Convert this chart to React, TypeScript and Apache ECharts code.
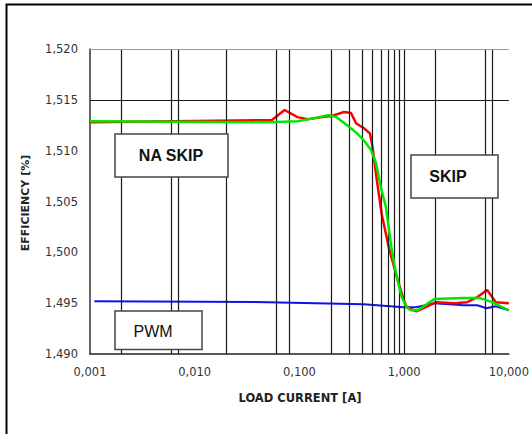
import React, { useEffect, useRef } from "react";
import * as echarts from "echarts";

const xTickLabels = ["0,001", "0,010", "0,100", "1,000", "10,000"];
const yTickLabels = ["1,490", "1,495", "1,500", "1,505", "1,510", "1,515", "1,520"];

const xGridLines = [0.002, 0.006, 0.007, 0.02, 0.06, 0.08, 0.2, 0.3, 0.4, 0.5, 0.6, 0.7, 0.8, 0.9, 1, 2, 6, 7];
const yGridLines = [1.515];
const yTopLine = [1.52];

const redCurrent = [0.001, 0.0543, 0.0721, 0.0957, 0.119, 0.165, 0.201, 0.267, 0.311, 0.347, 0.413, 0.471, 0.492, 0.514, 0.548, 0.612, 0.713, 0.85, 0.99, 1.06, 1.31, 2.03, 3.0, 4.0, 5.0, 6.2, 7.5, 10];
const redValue = [1.5128, 1.513, 1.514, 1.5133, 1.5131, 1.5133, 1.5134, 1.5138, 1.5137, 1.5127, 1.5122, 1.5117, 1.5107, 1.5094, 1.5071, 1.5037, 1.5005, 1.4976, 1.4953, 1.4946, 1.4942, 1.4951, 1.495, 1.4951, 1.4956, 1.4963, 1.4951, 1.495];

const greenCurrent = [0.001, 0.05, 0.0957, 0.139, 0.192, 0.224, 0.285, 0.355, 0.413, 0.481, 0.537, 0.599, 0.668, 0.762, 0.849, 0.947, 1.056, 1.153, 1.343, 1.945, 3.66, 5.31, 6.9, 10];
const greenValue = [1.5129, 1.5128, 1.5129, 1.5132, 1.5135, 1.5133, 1.5125, 1.5117, 1.511, 1.5101, 1.5088, 1.5064, 1.5045, 1.5002, 1.4976, 1.4956, 1.4946, 1.4943, 1.4943, 1.4954, 1.4955, 1.4955, 1.4951, 1.4943];

const blueCurrent = [0.0011, 0.05, 0.41, 0.99, 1.3, 1.95, 3.66, 5.0, 6.1, 7.5, 10];
const blueValue = [1.4952, 1.4951, 1.4949, 1.4946, 1.4946, 1.495, 1.4948, 1.4948, 1.4945, 1.4947, 1.4943];

const zip = (xs: number[], ys: number[]) => xs.map((x, i) => [x, ys[i]]);

const Y_MIN = 1.49;
const Y_STEP = 0.005;

export default function App() {
  const ref = useRef<HTMLDivElement>(null);
  useEffect(() => {
    if (!ref.current) return;
    const chart = echarts.init(ref.current, undefined, { renderer: "svg" });
    const labelFont = { fontFamily: "DejaVu Sans", fontSize: 11.5, color: "#333" };
    const boxStyle = { fill: "#fff", stroke: "#444", lineWidth: 1.5 };
    const option: any = {
      animation: false,
      backgroundColor: "#fff",
      grid: { left: 90, top: 49, right: 20, bottom: 80 },
      xAxis: {
        type: "log",
        logBase: 10,
        min: 0.001,
        max: 10,
        axisLine: { show: true, lineStyle: { color: "#222", width: 1.5 } },
        axisTick: { show: false },
        splitLine: { show: false },
        minorTick: { show: false },
        axisLabel: {
          ...labelFont,
          margin: 12,
          formatter: (v: number) => xTickLabels[Math.round(Math.log10(v)) + 3] ?? "",
        },
      },
      yAxis: {
        type: "value",
        min: Y_MIN,
        max: 1.52,
        interval: Y_STEP,
        axisLine: { show: true, lineStyle: { color: "#333", width: 1.5 } },
        axisTick: { show: false },
        splitLine: { show: false },
        axisLabel: {
          ...labelFont,
          margin: 12,
          formatter: (v: number) => yTickLabels[Math.round((v - Y_MIN) / Y_STEP)] ?? "",
        },
      },
      series: [
        {
          type: "line",
          z: 1,
          silent: true,
          data: [[0.001, 1.49]],
          showSymbol: false,
          lineStyle: { opacity: 0 },
          markLine: {
            silent: true,
            precision: 6,
            symbol: ["none", "none"],
            label: { show: false },
            animation: false,
            lineStyle: { color: "#1a1a1a", type: "solid", width: 1.2 },
            data: [
              ...xGridLines.map((v) => ({ xAxis: v })),
              ...yGridLines.map((v) => ({ yAxis: v })),
              ...yTopLine.map((v) => ({ yAxis: v, lineStyle: { color: "#999", type: "solid", width: 1.2 } })),
            ],
          },
        },
        {
          type: "line",
          z: 3,
          data: zip(blueCurrent, blueValue),
          showSymbol: false,
          symbol: "none",
          lineStyle: { color: "#1010ee", width: 2 },
          emphasis: { disabled: true },
        },
        {
          type: "line",
          z: 4,
          data: zip(redCurrent, redValue),
          showSymbol: false,
          symbol: "none",
          lineStyle: { color: "#ff0000", width: 2.5 },
          emphasis: { disabled: true },
        },
        {
          type: "line",
          z: 5,
          data: zip(greenCurrent, greenValue),
          showSymbol: false,
          symbol: "none",
          lineStyle: { color: "#00e600", width: 2.5 },
          emphasis: { disabled: true },
        },
      ],
      graphic: [
        {
          type: "rect",
          z: 0,
          shape: { x: 6.5, y: 4.5, width: 700, height: 700 },
          style: { fill: "none", stroke: "#000", lineWidth: 2 },
          silent: true,
        },
        {
          type: "rect",
          z: 100,
          shape: { x: 115, y: 134, width: 113, height: 43 },
          style: boxStyle,
        },
        {
          type: "text",
          z: 101,
          x: 171,
          y: 155,
          style: { text: "NA SKIP", fontFamily: "Liberation Sans", fontWeight: "bold", fontSize: 16, fill: "#111", align: "center", verticalAlign: "middle" },
        },
        {
          type: "rect",
          z: 100,
          shape: { x: 411, y: 155, width: 87, height: 43 },
          style: boxStyle,
        },
        {
          type: "text",
          z: 101,
          x: 448,
          y: 176,
          style: { text: "SKIP", fontFamily: "Liberation Sans", fontWeight: "bold", fontSize: 16, fill: "#111", align: "center", verticalAlign: "middle" },
        },
        {
          type: "rect",
          z: 100,
          shape: { x: 115, y: 311, width: 87, height: 38.5 },
          style: boxStyle,
        },
        {
          type: "text",
          z: 101,
          x: 153,
          y: 331,
          style: { text: "PWM", fontFamily: "Liberation Sans", fontWeight: "normal", fontSize: 16, fill: "#111", align: "center", verticalAlign: "middle" },
        },
        {
          type: "text",
          z: 101,
          x: 300,
          y: 398,
          style: { text: "LOAD CURRENT [A]", fontFamily: "DejaVu Sans", fontWeight: "bold", fontSize: 11.5, fill: "#222", align: "center", verticalAlign: "middle" },
        },
        {
          type: "text",
          z: 101,
          x: 25,
          y: 203,
          rotation: Math.PI / 2,
          style: { text: "EFFICIENCY [%]", fontFamily: "DejaVu Sans", fontWeight: "bold", fontSize: 11, fill: "#222", align: "center", verticalAlign: "middle" },
        },
      ],
    };
    chart.setOption(option);
    return () => chart.dispose();
  }, []);
  return <div ref={ref} style={{ position: "fixed", left: 0, top: 0, width: 532, height: 434 }} />;
}
